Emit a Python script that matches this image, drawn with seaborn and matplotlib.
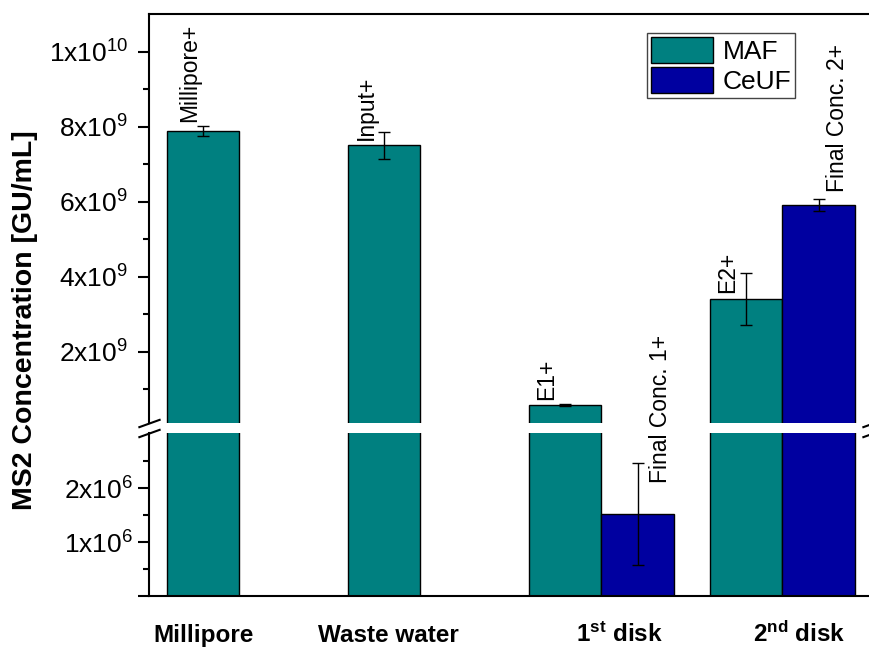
import numpy as np
import pandas as pd
import seaborn as sns
from matplotlib import pyplot as plt
from matplotlib.ticker import FixedLocator

# data
categories = ["Millipore", "Waste water", "1st disk", "2nd disk"]
category_labels = ["Millipore", "Waste water", r"1$^{\mathbf{st}}$ disk", r"2$^{\mathbf{nd}}$ disk"]
methods = ["MAF", "CeUF"]

maf_values = [7.88e9, 7.50e9, 0.58e9, 3.40e9]
maf_errors = [0.13e9, 0.36e9, 0.03e9, 0.69e9]
maf_labels = ["Millipore+", "Input+", "E1+", "E2+"]

ceuf_values = [np.nan, np.nan, 1.52e6, 5.92e9]
ceuf_errors = [np.nan, np.nan, 0.95e6, 0.16e9]
ceuf_labels = ["", "", "Final Conc. 1+", "Final Conc. 2+"]

upper_ticks = [2e9, 4e9, 6e9, 8e9, 1e10]
upper_ticklabels = [r"2x10$^9$", r"4x10$^9$", r"6x10$^9$", r"8x10$^9$", r"1x10$^{10}$"]
upper_minor = [1e9, 3e9, 5e9, 7e9, 9e9]
lower_ticks = [1e6, 2e6]
lower_ticklabels = [r"1x10$^6$", r"2x10$^6$"]
lower_minor = [0.5e6, 1.5e6, 2.5e6]

df = pd.concat([
    pd.DataFrame({"category": categories, "method": "MAF", "value": maf_values,
                  "err": maf_errors, "label": maf_labels}),
    pd.DataFrame({"category": categories, "method": "CeUF", "value": ceuf_values,
                  "err": ceuf_errors, "label": ceuf_labels}),
], ignore_index=True).dropna(subset=["value"])

# hand placed bar labels in the original (pixel offsets from bar top centre)
label_offsets = {
    "Millipore+": (-13.5, 9), "Input+": (-17.5, 5), "E1+": (-18.5, 5),
    "Final Conc. 1+": (23, 31), "E2+": (-18.5, 6), "Final Conc. 2+": (19, 13),
}

sns.set_style("ticks")
plt.rcParams["font.family"] = ["Liberation Sans", "DejaVu Sans"]
plt.rcParams["mathtext.fontset"] = "custom"
plt.rcParams["mathtext.rm"] = "Liberation Sans"
plt.rcParams["mathtext.it"] = "Liberation Sans:italic"
plt.rcParams["mathtext.bf"] = "Liberation Sans:bold"
for key in ("text.color", "axes.labelcolor", "xtick.color", "ytick.color", "axes.edgecolor"):
    plt.rcParams[key] = "black"

palette = {"MAF": "#008080", "CeUF": "#0000A0"}

fig = plt.figure(figsize=(8.7, 6.48), dpi=100)
ax_top = fig.add_axes([0.17126, 0.34722, 0.83218, 0.63117])
ax_bot = fig.add_axes([0.17126, 0.08025, 0.83218, 0.25154])

for ax, ylim in ((ax_top, (1e8, 1.1e10)), (ax_bot, (0, 3.02e6))):
    sns.barplot(data=df, x="category", y="value", hue="method", order=categories,
                hue_order=methods, palette=palette, saturation=1, errorbar=None,
                edgecolor="black", linewidth=1, ax=ax, legend=(ax is ax_top))
    ax.set_xlim(-0.5, 3.5)
    ax.set_ylim(*ylim)
    ax.set_xlabel("")
    ax.set_ylabel("")

    for container, method in zip(ax.containers, methods):
        sub = df[df["method"] == method]
        for bar, (_, row) in zip(container, sub.iterrows()):
            cx = bar.get_x() + bar.get_width() / 2
            h = bar.get_height()
            ax.errorbar(cx, h, yerr=row["err"], fmt="none", ecolor="black",
                        elinewidth=1, capsize=4, capthick=1)
            if row["label"] and ylim[0] < h < ylim[1]:
                ax.annotate(row["label"], xy=(cx, h), xytext=label_offsets[row["label"]],
                            textcoords="offset pixels", rotation=90, ha="center",
                            va="bottom", fontsize=16.5, annotation_clip=False)

    ax.spines["right"].set_visible(False)
    for s in ax.spines.values():
        s.set_linewidth(1.5)
        s.set_color("black")
    ax.tick_params(axis="y", which="major", length=8, width=1.5, labelsize=19,
                   direction="out", color="black")
    ax.tick_params(axis="y", which="minor", length=4, width=1.5, direction="out",
                   color="black")

# upper part
ax_top.spines["bottom"].set_visible(False)
ax_top.set_xticks([])
ax_top.yaxis.set_major_locator(FixedLocator(upper_ticks))
ax_top.set_yticklabels(upper_ticklabels)
ax_top.yaxis.set_minor_locator(FixedLocator(upper_minor))
ax_top.tick_params(axis="y", pad=7)

# lower part
ax_bot.spines["top"].set_visible(False)
ax_bot.yaxis.set_major_locator(FixedLocator(lower_ticks))
ax_bot.set_yticklabels(lower_ticklabels)
ax_bot.yaxis.set_minor_locator(FixedLocator(lower_minor))
ax_bot.tick_params(axis="y", pad=3.5)

# category labels sit a bit off the group centres in the original
label_shift = [-0.2, -0.18, 0.1, 0.09]
ax_bot.set_xticks(np.arange(len(categories)) + np.array(label_shift))
ax_bot.set_xticklabels(category_labels, fontsize=17.5, fontweight="bold")
ax_bot.tick_params(axis="x", length=0, pad=33)
for lab in ax_bot.get_xticklabels():
    lab.set_va("baseline")
ax_bot.plot([-0.0152, 0], [0, 0], transform=ax_bot.transAxes, color="black",
            lw=1.5, clip_on=False, solid_capstyle="butt")

# break marks
for ax, y in ((ax_top, 0), (ax_bot, 1)):
    ax.plot([0, 1], [y, y], transform=ax.transAxes, marker=[(-1, -0.36), (1, 0.36)],
            markersize=16, linestyle="none", color="black", mec="black", mew=1.5,
            clip_on=False)

handles, labels = ax_top.get_legend_handles_labels()
leg = ax_top.legend(handles, labels, loc="upper right", bbox_to_anchor=(0.9138, 0.9491),
                    bbox_transform=fig.transFigure, borderaxespad=0, fontsize=19,
                    handlelength=2.35, handleheight=1.17, labelspacing=0.1,
                    handletextpad=0.35, borderpad=0.15, fancybox=False,
                    framealpha=1, edgecolor="#444444")
leg.get_frame().set_linewidth(1)

fig.text(0.0293, 0.506, "MS2 Concentration [GU/mL]", rotation=90, ha="center",
         va="center", fontsize=20.5, fontweight="bold")

fig.savefig("out.png", dpi=100)
